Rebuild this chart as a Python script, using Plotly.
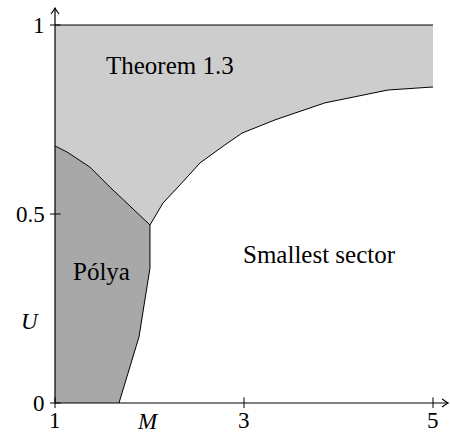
import plotly.graph_objects as go

# Boundary curves (M, U)
polya_top_M = [1.0, 1.127, 1.370, 1.582, 2.005]
polya_top_U = [0.680, 0.664, 0.624, 0.571, 0.471]

polya_right_M = [2.005, 2.005, 1.889, 1.677]
polya_right_U = [0.471, 0.357, 0.175, 0.0]

thm_low_M = [2.005, 2.143, 2.323, 2.534, 2.799, 2.979, 3.328, 3.857, 4.524, 5.0]
thm_low_U = [0.471, 0.529, 0.577, 0.635, 0.683, 0.714, 0.749, 0.794, 0.828, 0.836]

top_M = [1.0, 5.0]
top_U = [1.0, 1.0]

x_ticks = [1, 3, 5]
y_ticks = [0, 0.5, 1]
y_tick_text = ["0", "0.5", "1"]

X_END = 5.16
Y_END = 1.045

LIGHT = "#cdcdcd"
DARK = "#a8a8a8"
FONT = "Liberation Serif, serif"
FS = 23
FS_LBL = 25

fig = go.Figure()

# Theorem 1.3 region
thm_x = top_M + thm_low_M[::-1] + polya_top_M[::-1][1:]
thm_y = top_U + thm_low_U[::-1] + polya_top_U[::-1][1:]
fig.add_trace(go.Scatter(x=thm_x, y=thm_y, fill="toself", fillcolor=LIGHT,
                         mode="none", hoverinfo="skip"))

# Polya region
pol_x = polya_top_M + polya_right_M[1:] + [1.0]
pol_y = polya_top_U + polya_right_U[1:] + [0.0]
fig.add_trace(go.Scatter(x=pol_x, y=pol_y, fill="toself", fillcolor=DARK,
                         mode="none", hoverinfo="skip"))

# Boundary lines
for xs, ys in [(polya_top_M, polya_top_U), (polya_right_M, polya_right_U),
               (thm_low_M, thm_low_U), (top_M, top_U)]:
    fig.add_trace(go.Scatter(x=xs, y=ys, mode="lines",
                             line=dict(color="black", width=1), hoverinfo="skip"))

# Axis lines
fig.add_trace(go.Scatter(x=[1, X_END], y=[0, 0], mode="lines",
                         line=dict(color="black", width=1.2), hoverinfo="skip"))
fig.add_trace(go.Scatter(x=[1, 1], y=[0, Y_END], mode="lines",
                         line=dict(color="black", width=1.2), hoverinfo="skip"))

# Tick marks
fig.add_trace(go.Scatter(x=x_ticks, y=[0] * len(x_ticks), mode="markers",
                         marker=dict(symbol="line-ns", size=8,
                                     line=dict(color="black", width=1)),
                         hoverinfo="skip"))
fig.add_trace(go.Scatter(x=[1] * len(y_ticks), y=y_ticks, mode="markers",
                         marker=dict(symbol="line-ew", size=8,
                                     line=dict(color="black", width=1)),
                         hoverinfo="skip"))

# Arrowheads (pixel-sized paths anchored at the axis ends)
shapes = [
    dict(type="path", xref="x", yref="y", xsizemode="pixel", ysizemode="pixel",
         xanchor=X_END, yanchor=0, path="M -6 4 Q -2 1 0 0 Q -2 -1 -6 -4",
         line=dict(color="black", width=1.1)),
    dict(type="path", xref="x", yref="y", xsizemode="pixel", ysizemode="pixel",
         xanchor=1, yanchor=Y_END, path="M -4 -6 Q -1 -2 0 0 Q 1 -2 4 -6",
         line=dict(color="black", width=1.1)),
]

annotations = []
# Tick labels
for v in x_ticks:
    annotations.append(dict(x=v, y=0, xref="x", yref="y", text=str(v), showarrow=False,
                            yanchor="top", yshift=-3,
                            font=dict(family=FONT, size=FS, color="black")))
for v, t in zip(y_ticks, y_tick_text):
    annotations.append(dict(x=1, y=v, xref="x", yref="y", text=t, showarrow=False,
                            xanchor="right", xshift=-8,
                            font=dict(family=FONT, size=FS, color="black")))
# Axis labels
annotations.append(dict(x=1.98, y=0, xref="x", yref="y", text="<i>M</i>", showarrow=False,
                        yanchor="top", yshift=-4,
                        font=dict(family=FONT, size=FS, color="black")))
annotations.append(dict(x=1, y=0.215, xref="x", yref="y", text="<i>U</i>", showarrow=False,
                        xanchor="right", xshift=-14,
                        font=dict(family=FONT, size=FS, color="black")))
# Region labels
annotations.append(dict(x=2.22, y=0.893, xref="x", yref="y", text="Theorem 1.3", showarrow=False,
                        font=dict(family=FONT, size=FS_LBL, color="black")))
annotations.append(dict(x=1.487, y=0.347, xref="x", yref="y", text="Pólya", showarrow=False,
                        font=dict(family=FONT, size=FS_LBL, color="black")))
annotations.append(dict(x=3.80, y=0.394, xref="x", yref="y", text="Smallest sector", showarrow=False,
                        font=dict(family=FONT, size=FS_LBL, color="black")))

fig.update_layout(
    width=450, height=434,
    margin=dict(l=50, r=0, t=5, b=26),
    paper_bgcolor="white", plot_bgcolor="white",
    showlegend=False,
    font=dict(family=FONT),
    annotations=annotations,
    shapes=shapes,
    xaxis=dict(range=[0.9471, 5.180], showgrid=False, zeroline=False, showticklabels=False,
               ticks="", showline=False),
    yaxis=dict(range=[-0.01323, 1.0529], showgrid=False, zeroline=False, showticklabels=False,
               ticks="", showline=False),
)

fig.write_html("out.html")
